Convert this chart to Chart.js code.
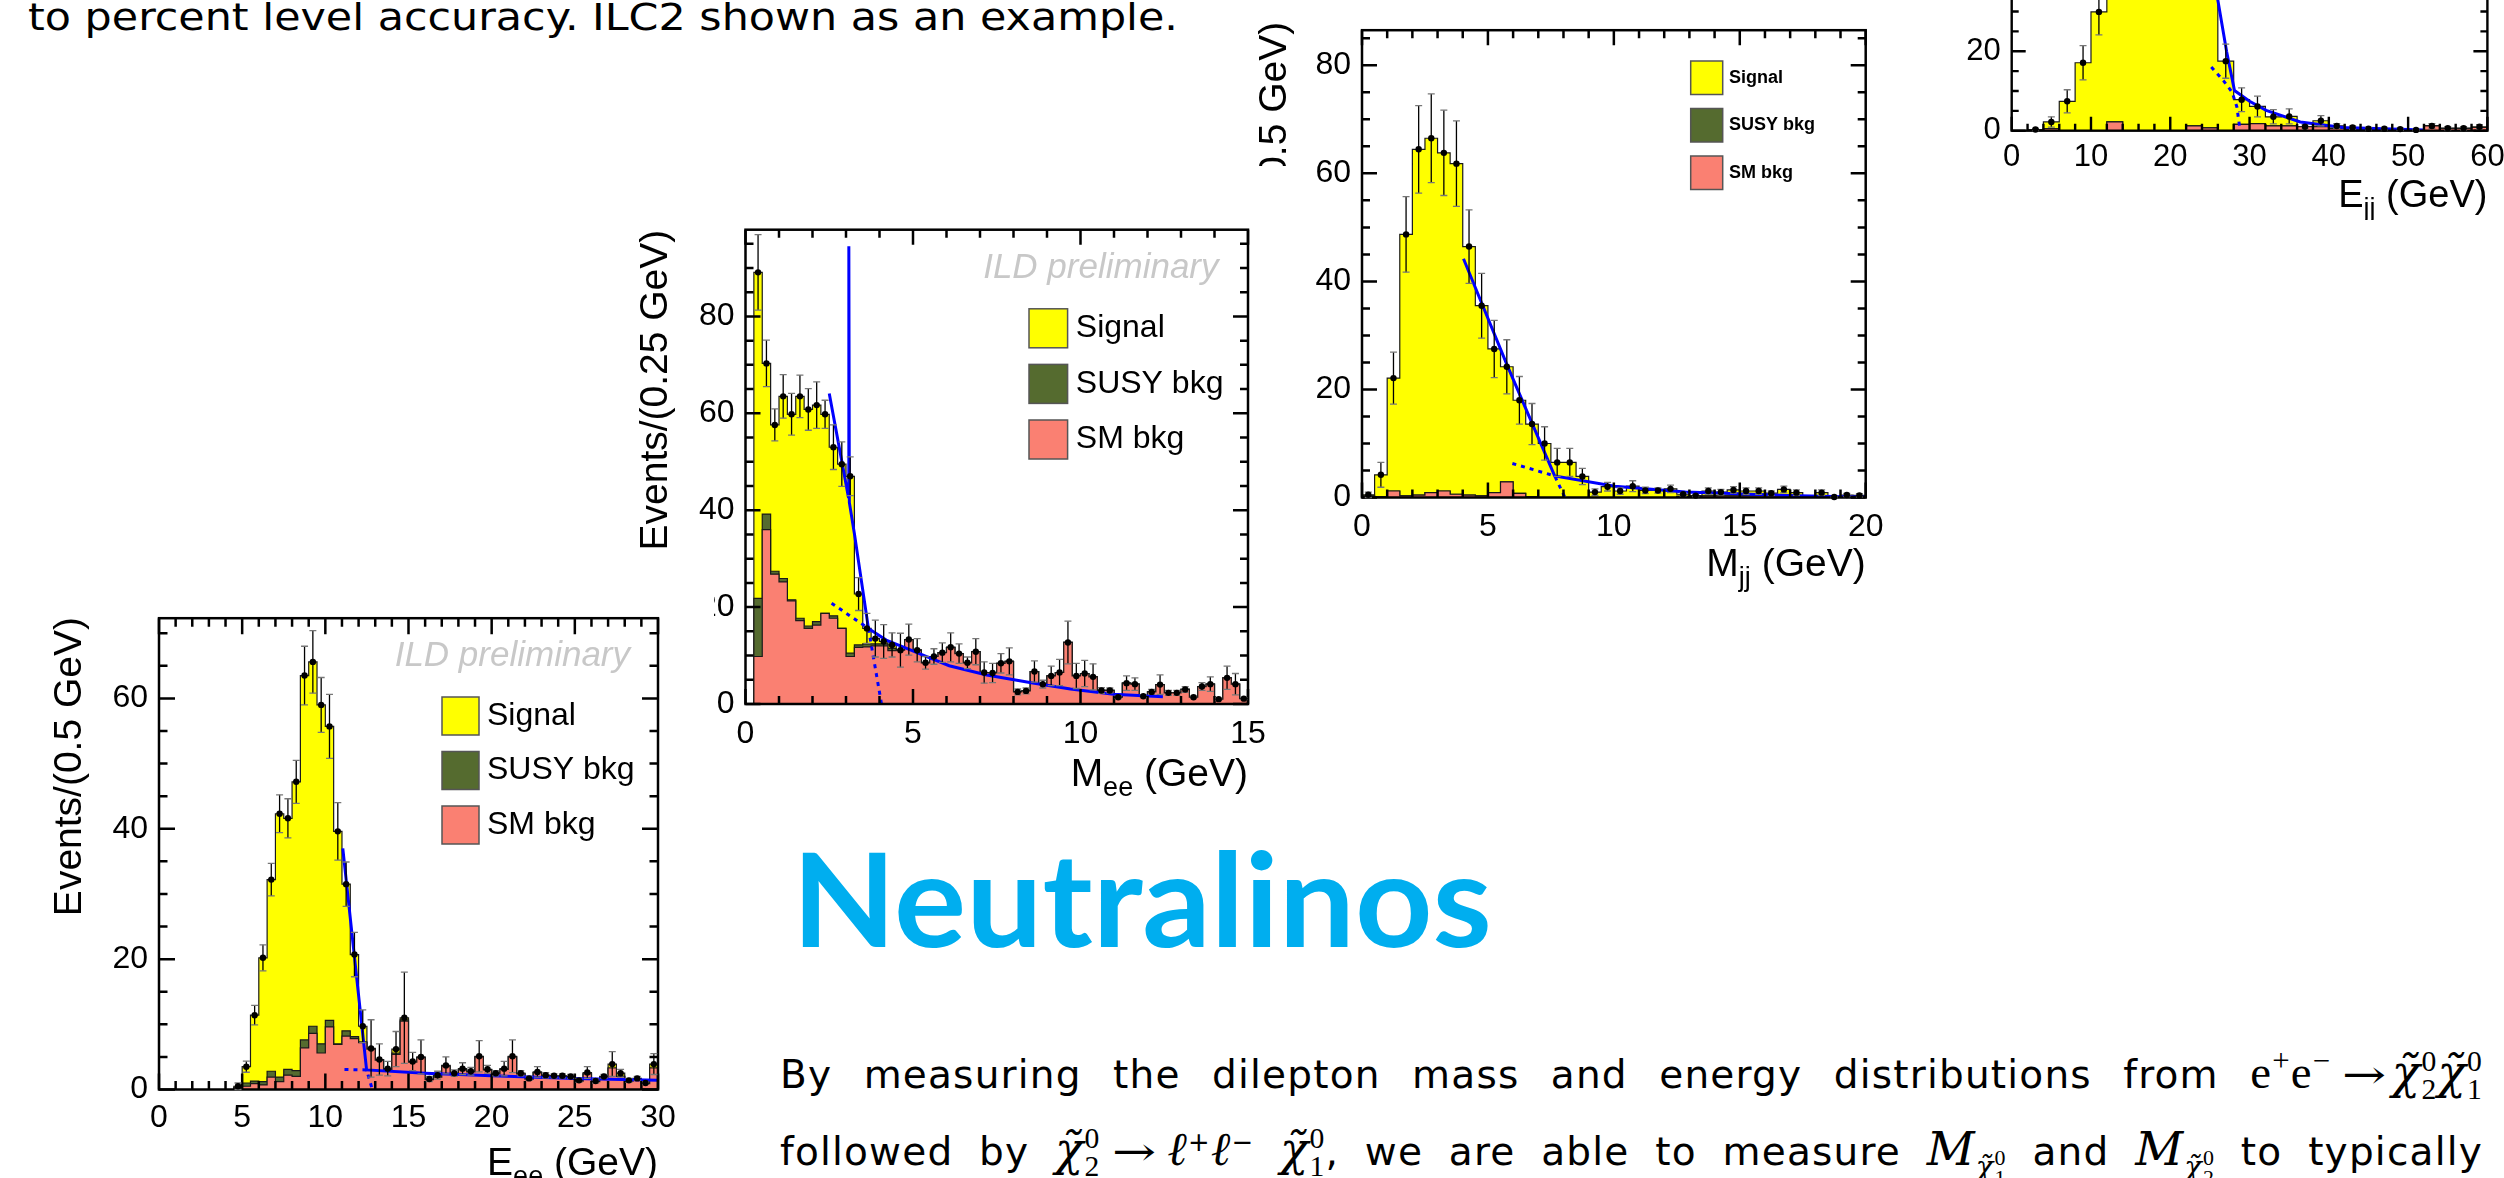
<!DOCTYPE html>
<html>
<head>
<meta charset="utf-8">
<title>Neutralinos</title>
<script src="https://cdn.jsdelivr.net/npm/chart.js@4.4.1/dist/chart.umd.min.js"></script>
<style>
  html, body { margin: 0; padding: 0; background: #fff; overflow: hidden; }
  body { width: 2504px; height: 1178px; position: relative; }
  canvas.plot { position: absolute; background: #fff; }
  .line { position: absolute; white-space: nowrap; font-family: "DejaVu Sans", sans-serif; font-size: 38px; line-height: 1.2; transform-origin: 0 0; color: #000; }
  #l1, #l2 { font-size: 39px; letter-spacing: 1.2px; }
  #title { font-family: Lato, "Liberation Sans", sans-serif; font-weight: 700; font-size: 131px; color: #00aeef; }
  .mi { font-family: "DejaVu Serif", serif; font-style: italic; }
  .rm { font-family: "Liberation Serif", serif; }
  .big { font-size: 1.2em; }
  .arr { display: inline-block; width: 1.15em; margin: 0 0.28em; font-family: "DejaVu Serif", serif; transform: scaleX(1.35); transform-origin: 0 50%; }
  #l1 .arr { margin-right: 0.12em; }
  .ss { display: inline-block; vertical-align: -0.36em; font-family: "Liberation Serif", serif; font-size: 0.76em; line-height: 0.92; }
  .ss span { display: block; }
  sup { font-size: 0.66em; line-height: 0; vertical-align: 0.55em; }
  .sub { display: inline-block; font-size: 0.74em; vertical-align: -0.42em; }
</style>
</head>
<body>
<div class="line" id="top">to percent level accuracy. ILC2 shown as an example.</div>
<div class="line" id="title">Neutralinos</div>
<div class="line" id="l1">By measuring the dilepton mass and energy distributions from <span class="rm big">e<sup>+</sup>e<sup>−</sup></span><span class="arr">→</span><span class="mi big">χ̃</span><span class="ss"><span>0</span><span>2</span></span><span class="mi big">χ̃</span><span class="ss"><span>0</span><span>1</span></span></div>
<div class="line" id="l2">followed by <span class="mi big">χ̃</span><span class="ss"><span>0</span><span>2</span></span><span class="arr">→</span><span class="mi big">ℓ</span><sup>+</sup><span class="mi big">ℓ</span><sup>−</sup> <span class="mi big">χ̃</span><span class="ss"><span>0</span><span>1</span></span>, we are able to measure <span class="mi big">M</span><span class="sub"><span class="mi">χ̃</span><span class="ss"><span>0</span><span>1</span></span></span> and <span class="mi big">M</span><span class="sub"><span class="mi">χ̃</span><span class="ss"><span>0</span><span>2</span></span></span> to typically</div>

<script>
// E_ee, 0.5 GeV bins from 0 to 30
const eeSm = [0, 0, 0, 0, 0, 0, 0, 0, 0, 0.2, 0.5, 0.9, 0.7, 1.9, 1.2, 2.2, 2.0, 6.4, 8.6, 5.6,
  9.6, 6.9, 8.2, 7.8, 7.2, 6.2, 4.5, 3.1, 5.4, 10.5, 4.2, 4.9, 1.5, 1.9, 3.6, 2.4, 3.0, 2.7, 5.0, 3.0,
  2.4, 3.1, 5.0, 2.4, 1.6, 2.6, 2.1, 2.0, 2.0, 1.9, 1.3, 2.4, 1.2, 1.9, 3.3, 2.0, 1.3, 1.6, 0.9, 3.3];
const eeSusy = [0, 0, 0, 0, 0, 0, 0, 0, 0, 0.1, 0.5, 0.4, 0.5, 0.9, 0.7, 0.9, 0.9, 1.2, 1.1, 1.4,
  1.0, 0.1, 0.8, 0.3, 0.1, 0, 0, 0, 0.2, 0.2, 0, 0, 0, 0, 0, 0, 0, 0, 0, 0,
  0, 0, 0, 0, 0, 0, 0, 0, 0, 0, 0, 0, 0, 0, 0, 0, 0, 0, 0, 0];
const eeSignal = [0, 0, 0, 0, 0, 0, 0, 0, 0, 0.2, 2.5, 10.1, 19.0, 29.4, 40.4, 38.5, 44.3, 55.9, 55.9, 52.0,
  45.1, 32.6, 22.5, 12.6, 2.4, 0.1, 0.1, 0.1, 0.6, 0.3, 0.1, 0.1, 0.1, 0.3, 0.1, 0.1, 0.2, 0.1, 0.1, 0.1,
  0.1, 0.1, 0.1, 0.1, 0.1, 0.1, 0.1, 0.1, 0.1, 0.1, 0.1, 0.2, 0.1, 0.1, 0.6, 0.5, 0.1, 0.1, 0.1, 0.6];
const eeErr = [0, 0, 0, 0, 0, 0, 0, 0, 0, 0.5, 0.85, 1.5, 2.0, 2.5, 2.9, 3.0, 3.3, 4.5, 4.8, 4.2,
  4.9, 4.4, 3.4, 3.4, 2.5, 4.4, 2.4, 1.1, 2.7, 7.0, 1.4, 2.6, 0.4, 0.6, 1.3, 0.5, 0.9, 0.6, 2.4, 0.6,
  0.4, 1.1, 2.5, 0.4, 0.3, 0.8, 0.4, 0.3, 0.3, 0.3, 0.3, 0.9, 0.3, 0.3, 1.9, 0.6, 0.3, 0.3, 0.2, 1.6];
const eeFit = [[11.05, 37.0], [12.48, 3.0], [16, 2.5], [20, 2.1], [25, 1.7], [30, 1.4]];
const eeFitDash = [[[11.15, 3.07], [12.48, 3.0], [12.79, 0.3]]];

// M_ee, 0.25 GeV bins from 0 to 15
const meeSm = [0, 9.8, 36.0, 26.8, 25.2, 21.3, 17.2, 15.6, 16.3, 18.7, 17.7, 15.6, 9.8, 11.7, 11.8, 12.0, 12.0, 11.0, 11.1, 13.3,
  11.1, 8.5, 9.8, 10.6, 11.7, 10.4, 8.5, 10.8, 6.5, 6.4, 8.4, 8.8, 2.5, 2.7, 6.7, 4.1, 5.8, 6.5, 12.7, 5.8,
  6.3, 5.6, 2.8, 2.8, 1.4, 4.3, 4.1, 1.6, 2.5, 4.0, 2.3, 2.3, 3.0, 1.4, 3.6, 4.1, 1.0, 5.4, 4.1, 1.1];
const meeSusy = [0, 12.0, 3.2, 0.6, 0.7, 0.2, 0.5, 0.5, 0.7, 0, 0.5, 0, 0.7, 0.5, 0.6, 0.4, 0.4, 0.5, 0, 0,
  0, 0, 0, 0, 0, 0, 0, 0, 0, 0, 0, 0, 0, 0, 0, 0, 0, 0, 0, 0,
  0, 0, 0, 0, 0, 0, 0, 0, 0, 0, 0, 0, 0, 0, 0, 0, 0, 0, 0, 0];
const meeSignal = [0, 67.3, 31.1, 30.2, 37.6, 38.3, 45.8, 44.7, 44.7, 41.1, 34.8, 33.9, 36.5, 10.5, 3.2, 1.1, 0.5, 0.7, 0, 0,
  0, 0, 0, 0, 0, 0, 0, 0, 0, 0, 0, 0, 0, 0, 0, 0, 0, 0, 0, 0,
  0, 0, 0, 0, 0, 0, 0, 0, 0, 0, 0, 0, 0, 0, 0, 0, 0, 0, 0, 0];
const meeErr = [0, 7.8, 4.8, 3.3, 4.5, 4.3, 4.4, 4.3, 4.8, 2.9, 4.6, 4.6, 4.0, 3.4, 3.1, 3.8, 3.5, 2.5, 3.5, 3.2,
  2.4, 1.3, 1.6, 2.0, 3.0, 2.0, 1.2, 2.7, 2.2, 2.0, 2.0, 2.8, 0.6, 0.6, 2.2, 0.8, 2.0, 2.7, 4.4, 2.6,
  2.7, 2.7, 0.6, 0.5, 0.3, 1.5, 1.3, 0.3, 0.5, 2.0, 0.5, 0.5, 0.6, 0.2, 0.8, 1.5, 0.2, 2.4, 2.2, 0.2];
const meeFit = [[2.5, 64.1], [3.07, 42.8], [3.085, 94.5], [3.1, 41.6], [3.25, 35.2], [3.67, 15.6], [4.2, 13.2], [4.81, 11.5],
  [5.5, 9.5], [6.08, 7.9], [7.2, 6.0], [8.53, 4.4], [9.7, 3.1], [10.99, 2.0], [12.46, 1.5]];
const meeFitDash = [[[2.57, 20.8], [3.67, 15.6], [4.06, 0]]];

// M_jj, 0.5 GeV bins from 0 to 20
const mjjSm = [0.3, 0.1, 1.2, 0.3, 0.45, 0.9, 1.2, 0.6, 0.45, 0.3, 0.9, 2.9, 0.75, 0.1, 0, 0, 0, 0, 0, 0,
  0, 0, 0, 0, 0, 0.2, 0.2, 0.3, 0.3, 0.3, 0.3, 0.3, 0.3, 0.3, 0.2, 0, 0.3, 0, 0.1, 0.1];
const mjjSusy = [0, 0, 0, 0, 0, 0, 0, 0, 0, 0, 0, 0, 0, 0, 0, 0, 0, 0, 0, 0,
  0, 0, 0, 0, 0, 0, 0, 0, 0, 0, 0, 0, 0, 0, 0, 0, 0, 0, 0, 0];
const mjjSignal = [0.2, 4.1, 20.9, 48.4, 64.0, 65.6, 62.6, 61.2, 46.0, 35.2, 26.6, 21.3, 17.25, 13.5, 10.0, 6.5, 6.5, 3.9, 1.0, 2.0,
  1.2, 2.1, 1.3, 1.3, 1.6, 0.4, 0.15, 0.9, 0.7, 1.1, 0.9, 0.9, 0.5, 1.2, 0.7, 0, 0.6, 0.1, 0.35, 0.3];
const mjjErr = [0.5, 2.3, 4.8, 7.0, 8.1, 8.2, 7.9, 7.9, 6.8, 6.0, 5.3, 5.0, 4.4, 3.8, 3.1, 2.6, 2.6, 1.5, 0.6, 0.8,
  0.6, 1.0, 0.6, 0.5, 0.7, 0.3, 0.2, 0.6, 0.5, 0.6, 0.6, 0.6, 0.4, 0.6, 0.5, 0, 0.5, 0.1, 0.3, 0.3];
const mjjFit = [[4.03, 44.2], [5.77, 24.4], [7.65, 4.0], [10.04, 2.1], [12.84, 1.04], [16.95, 0.35], [20, 0.05]];
const mjjFitDash = [[[5.97, 6.3], [7.65, 4.0], [8.06, 0]]];

// E_jj, 2 GeV bins from 0 to 60 (peak bins lie above the slide edge)
const ejjSm = [0, 0, 0.5, 0, 0, 0, 2.2, 0, 0, 0, 0, 1.2, 0.7, 0, 1.6, 1.8, 1.2, 1.2, 1.0, 1.0,
  0.6, 0.3, 0.2, 0.2, 0.2, 0.1, 1.2, 0.6, 0.6, 0.8];
const ejjSusy = [0, 0, 0, 0, 0, 0, 0, 0, 0, 0, 0, 0, 0, 0, 0, 0, 0, 0, 0, 0,
  0, 0, 0, 0, 0, 0, 0, 0, 0, 0];
const ejjSignal = [0, 0.3, 1.7, 7.4, 17.1, 29.9, 47.8, 68, 78, 84, 85, 78.8, 69.3, 17.5, 6.2, 4.3, 2.3, 2.4, 0, 1.5,
  0.6, 0.5, 0.3, 0.3, 0.2, 0.1, 0, 0, 0, 0.2];
const ejjErr = [0, 0.3, 1.3, 2.9, 4.3, 5.8, 7.1, 8.2, 8.8, 9.2, 9.2, 8.9, 8.4, 4.3, 3.0, 2.6, 1.8, 1.9, 0.5, 1.3,
  0.6, 0.4, 0.3, 0.3, 0.3, 0.2, 0.6, 0.4, 0.4, 0.5];
const ejjFit = [[23.5, 61], [26.04, 32.4], [27.1, 20], [28.1, 10.1], [30, 7.4], [32.1, 5.1], [36.4, 2.2], [41.8, 0.8], [52, 0.15]];
const ejjFitDash = [[[25.17, 16.0], [26.7, 12.6], [27.8, 9.7], [28.4, 6.0], [28.8, 0.2]]];

const legendLabels = ["Signal", "SUSY bkg", "SM bkg"];

const FONT = '"Liberation Sans", Arial, sans-serif';
const COLORS = { signal: "#ffff00", susy: "#556b2f", sm: "#fa8072", fit: "#0000ff" };

function cumulate(...parts) {
  return parts[0].map((_, i) => parts.reduce((s, a) => s + a[i], 0));
}

// left bin edges + closing edge, drawn with stepped lines
function steps(lo, w, vals) {
  const pts = vals.map((v, i) => ({ x: lo + i * w, y: v }));
  pts.push({ x: lo + vals.length * w, y: vals[vals.length - 1] });
  return pts;
}

function xy(list) {
  return list.map(([x, y]) => ({ x, y }));
}

function buildDatasets(h) {
  const susyTop = cumulate(h.sm, h.susy);
  const sigTop = cumulate(h.sm, h.susy, h.signal);
  const hist = { pointRadius: 0, borderColor: "#1a1a1a", borderWidth: 1.2, stepped: "before", fill: "origin" };
  return [
    { ...hist, data: steps(h.lo, h.w, sigTop), backgroundColor: COLORS.signal, order: 6 },
    { ...hist, data: steps(h.lo, h.w, susyTop), backgroundColor: COLORS.susy, order: 5 },
    { ...hist, data: steps(h.lo, h.w, h.sm), backgroundColor: COLORS.sm, order: 4 },
    ...h.fitDash.map(d => ({ data: xy(d), borderColor: COLORS.fit, borderWidth: 3, borderDash: [4, 5], pointRadius: 0, fill: false, order: 3 })),
    { data: xy(h.fit), borderColor: COLORS.fit, borderWidth: 3, pointRadius: 0, fill: false, order: 2 },
    {
      data: sigTop.map((v, i) => ({ x: h.lo + (i + 0.5) * h.w, y: v, e: h.err[i] })).filter(p => p.y > 0),
      showLine: false, pointRadius: 3.2, pointBackgroundColor: "#000", pointBorderColor: "#000", pointBorderWidth: 0,
      order: 0, clip: false, errorBars: true
    }
  ];
}

function drawFrame(chart, p) {
  const { ctx, chartArea: a, scales: { x, y } } = chart;
  const eps = 1e-6;
  ctx.save();
  ctx.strokeStyle = "#000";
  ctx.lineWidth = p.axisWidth;
  ctx.beginPath();
  for (let v = x.min; v <= x.max + eps; v += p.xMinor) {
    const px = x.getPixelForValue(v);
    const len = Math.abs(v / p.xMajor - Math.round(v / p.xMajor)) < eps ? p.tickMajor : p.tickMinor;
    ctx.moveTo(px, a.bottom); ctx.lineTo(px, a.bottom - len);
    ctx.moveTo(px, a.top); ctx.lineTo(px, a.top + len);
  }
  for (let v = y.min; v <= y.max + eps; v += p.yMinor) {
    const py = y.getPixelForValue(v);
    const len = Math.abs(v / p.yMajor - Math.round(v / p.yMajor)) < eps ? p.tickMajor : p.tickMinor;
    ctx.moveTo(a.left, py); ctx.lineTo(a.left + len, py);
    ctx.moveTo(a.right, py); ctx.lineTo(a.right - len, py);
  }
  ctx.stroke();
  ctx.strokeRect(a.left, a.top, a.right - a.left, a.bottom - a.top);
  ctx.restore();
}

function drawErrors(chart, pts) {
  const { ctx, chartArea: a, scales: { x, y } } = chart;
  ctx.save();
  ctx.beginPath();
  ctx.rect(a.left, a.top - 2, a.right - a.left, a.bottom - a.top + 4);
  ctx.clip();
  ctx.lineWidth = 1.3;
  for (const pt of pts) {
    const px = x.getPixelForValue(pt.x);
    const hi = y.getPixelForValue(pt.y + pt.e);
    const lo = y.getPixelForValue(Math.max(pt.y - pt.e, 0));
    ctx.strokeStyle = "#000";
    ctx.beginPath(); ctx.moveTo(px, hi); ctx.lineTo(px, lo); ctx.stroke();
    ctx.strokeStyle = "#777";
    ctx.beginPath();
    ctx.moveTo(px - 3.5, hi); ctx.lineTo(px + 3.5, hi);
    ctx.moveTo(px - 3.5, lo); ctx.lineTo(px + 3.5, lo);
    ctx.stroke();
  }
  ctx.restore();
}

function drawLabels(chart, p) {
  const ctx = chart.ctx;
  const [cx, cy] = p.canvas;
  ctx.save();
  ctx.fillStyle = "#000";
  ctx.textBaseline = "alphabetic";

  if (p.yTitle) {
    ctx.save();
    ctx.translate(p.yTitle.x - cx, p.frame[1] - cy);
    ctx.rotate(-Math.PI / 2);
    ctx.font = `${p.titleSize}px ${FONT}`;
    ctx.textAlign = "right";
    ctx.fillText(p.yTitle.text, 0, 0);
    ctx.restore();
  }

  const t = p.xTitle;
  const big = `${p.titleSize}px ${FONT}`;
  const small = `${Math.round(p.titleSize * 0.7)}px ${FONT}`;
  ctx.font = big;
  const w1 = ctx.measureText(t.main).width, w3 = ctx.measureText(t.rest).width;
  ctx.font = small;
  const w2 = ctx.measureText(t.sub).width;
  let tx = p.frame[2] - cx - (w1 + w2 + w3);
  const ty = t.base - cy;
  ctx.textAlign = "left";
  ctx.font = big; ctx.fillText(t.main, tx, ty); tx += w1;
  ctx.font = small; ctx.fillText(t.sub, tx, ty + p.titleSize * 0.25); tx += w2;
  ctx.font = big; ctx.fillText(t.rest, tx, ty);

  if (p.ild) {
    ctx.font = `italic 35px ${FONT}`;
    ctx.fillStyle = "#c8c8c8";
    ctx.textAlign = "right";
    ctx.fillText("ILD preliminary", p.ild.right - cx, p.ild.base - cy);
  }

  if (p.legend) {
    const L = p.legend;
    [COLORS.signal, COLORS.susy, COLORS.sm].forEach((c, i) => {
      const bx = L.x - cx, by = L.y - cy + i * L.step;
      ctx.fillStyle = c;
      ctx.fillRect(bx, by, L.w, L.h);
      ctx.strokeStyle = "#555";
      ctx.lineWidth = 1.5;
      ctx.strokeRect(bx, by, L.w, L.h);
      ctx.fillStyle = "#000";
      ctx.font = L.font;
      ctx.textAlign = "left";
      ctx.textBaseline = "middle";
      ctx.fillText(legendLabels[i], L.tx - cx, by + L.h / 2);
    });
  }
  ctx.restore();
}

function rootStyle(p) {
  return {
    id: "rootStyle",
    beforeDatasetDraw(chart, args) {
      const ds = chart.data.datasets[args.index];
      if (!ds.errorBars) return;
      drawFrame(chart, p);
      drawErrors(chart, ds.data);
    },
    afterDraw(chart) {
      drawLabels(chart, p);
    }
  };
}

const plots = [
  {
    z: 1, canvas: [1940, -340, 580, 560], frame: [2011.7, -317, 2487.4, 130.7],
    xr: [0, 60], xMajor: 10, xMinor: 2, yMax: 111, yMajor: 20, yMinor: 5,
    tickSize: 31, xPad: 8, tickMajor: 14, tickMinor: 7, axisWidth: 2.4, titleSize: 38,
    xTitle: { main: "E", sub: "jj", rest: " (GeV)", base: 207 },
    hist: { lo: 0, w: 2, sm: ejjSm, susy: ejjSusy, signal: ejjSignal, err: ejjErr, fit: ejjFit, fitDash: ejjFitDash }
  },
  {
    z: 2, canvas: [1240, 0, 680, 610], frame: [1362, 21.8, 1865.7, 497.5],
    xr: [0, 20], xMajor: 5, xMinor: 1, yMax: 86.5, yMajor: 20, yMinor: 5,
    tickSize: 32, xPad: 10, tickMajor: 15, tickMinor: 8, axisWidth: 2.5, titleSize: 39,
    yTitle: { x: 1286, text: "Events/(0.5 GeV)" },
    xTitle: { main: "M", sub: "jj", rest: " (GeV)", base: 576 },
    legend: { x: 1690.7, y: 61, w: 32, h: 33.5, step: 47.5, tx: 1728.9, font: `bold 18px ${FONT}` },
    hist: { lo: 0, w: 0.5, sm: mjjSm, susy: mjjSusy, signal: mjjSignal, err: mjjErr, fit: mjjFit, fitDash: mjjFitDash }
  },
  {
    z: 3, canvas: [622, 166, 678, 652], frame: [745.5, 229.7, 1248, 704],
    xr: [0, 15], xMajor: 5, xMinor: 1, yMax: 97.9, yMajor: 20, yMinor: 5,
    tickSize: 32, xPad: 10.5, tickMajor: 15, tickMinor: 8, axisWidth: 2.5, titleSize: 39,
    yTitle: { x: 667.3, text: "Events/(0.25 GeV)" },
    xTitle: { main: "M", sub: "ee", rest: " (GeV)", base: 786 },
    ild: { right: 1218.5, base: 277.6 },
    legend: { x: 1029, y: 308.8, w: 38.6, h: 39, step: 55.6, tx: 1075.8, font: `32px ${FONT}` },
    hist: { lo: 0, w: 0.25, sm: meeSm, susy: meeSusy, signal: meeSignal, err: meeErr, fit: meeFit, fitDash: meeFitDash }
  },
  {
    z: 4, canvas: [0, 588, 714, 590], frame: [159, 617, 658, 1089.5],
    xr: [0, 30], xMajor: 5, xMinor: 1, yMax: 72.3, yMajor: 20, yMinor: 5,
    tickSize: 32, xPad: 9.2, tickMajor: 16, tickMinor: 8.5, axisWidth: 2.5, titleSize: 39,
    yTitle: { x: 81, text: "Events/(0.5 GeV)" },
    xTitle: { main: "E", sub: "ee", rest: " (GeV)", base: 1175 },
    ild: { right: 630, base: 665.6 },
    legend: { x: 442, y: 697, w: 37, h: 38, step: 54.5, tx: 487, font: `32px ${FONT}` },
    hist: { lo: 0, w: 0.5, sm: eeSm, susy: eeSusy, signal: eeSignal, err: eeErr, fit: eeFit, fitDash: eeFitDash }
  }
];

function makePlot(p) {
  const [cx, cy, cw, ch] = p.canvas;
  const [fl, ft, fr, fb] = p.frame;
  const cv = document.createElement("canvas");
  cv.className = "plot";
  cv.width = cw;
  cv.height = ch;
  cv.style.left = cx + "px";
  cv.style.top = cy + "px";
  cv.style.zIndex = p.z;
  document.body.appendChild(cv);

  const tickFont = { family: FONT, size: p.tickSize };
  new Chart(cv, {
    type: "line",
    data: { datasets: buildDatasets(p.hist) },
    options: {
      responsive: false,
      animation: false,
      devicePixelRatio: 1,
      events: [],
      layout: { padding: { left: 0, top: ft - cy, right: cx + cw - fr, bottom: 0 } },
      plugins: { legend: { display: false }, tooltip: { enabled: false } },
      scales: {
        x: {
          type: "linear", min: p.xr[0], max: p.xr[1],
          afterFit: s => { s.height = cy + ch - fb; },
          grid: { display: false, drawTicks: false },
          border: { display: false },
          ticks: { stepSize: p.xMajor, includeBounds: false, autoSkip: false, maxRotation: 0, padding: p.xPad, color: "#000", font: tickFont }
        },
        y: {
          type: "linear", min: 0, max: p.yMax,
          afterFit: s => { s.width = fl - cx; },
          grid: { display: false, drawTicks: false },
          border: { display: false },
          ticks: { stepSize: p.yMajor, includeBounds: false, padding: 11, color: "#000", font: tickFont }
        }
      }
    },
    plugins: [rootStyle(p)]
  });
}

function placeLine(id, x, base, width, mode) {
  const el = document.getElementById(id);
  el.style.left = x + "px";
  el.style.top = "0px";
  const mark = document.createElement("span");
  mark.style.cssText = "display:inline-block;width:0;height:0;vertical-align:baseline";
  el.appendChild(mark);
  el.style.top = (base - mark.offsetTop) + "px";
  const natural = el.getBoundingClientRect().width;
  if (mode === "space") {
    const gaps = (el.textContent.match(/ /g) || []).length;
    el.style.wordSpacing = ((width - natural) / gaps) + "px";
  } else {
    el.style.transform = `scaleX(${width / natural})`;
  }
}

placeLine("top", 27.7, 30, 1150, "scale");
placeLine("title", 791.5, 946.7, 700, "scale");
placeLine("l1", 780, 1088, 1703, "space");
placeLine("l2", 780, 1165, 1703, "space");

plots.forEach(makePlot);
</script>
</body>
</html>
